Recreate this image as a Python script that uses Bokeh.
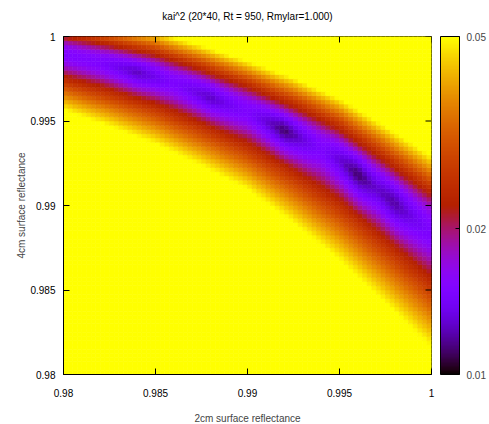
import numpy as np
from bokeh.plotting import figure
from bokeh.models import (LogColorMapper, ColorBar, FixedTicker, Range1d,
                          PrintfTickFormatter, ColumnDataSource, LinearAxis)
from bokeh.embed import file_html
from bokeh.resources import INLINE

# ---- data ----
title_text = "kai^2 (20*40, Rt = 950, Rmylar=1.000)"
x_label = "2cm surface reflectance"
y_label = "4cm surface reflectance"
x_ticks = [0.98, 0.985, 0.99, 0.995, 1.0]
x_tick_labels = ["0.98", "0.985", "0.99", "0.995", "1"]
y_ticks = [0.98, 0.985, 0.99, 0.995, 1.0]
y_tick_labels = ["0.98", "0.985", "0.99", "0.995", "1"]
cb_ticks = [0.01, 0.02, 0.05]
grid_step = 0.00025
x_range_vals = [0.98, 1.0]
y_range_vals = [0.98, 1.0]

# valley (minimum) of kai^2: 4cm reflectance at the bottom of the valley
valley_x = [0.9800, 0.9825, 0.9850, 0.9875, 0.9900, 0.9925, 0.9950, 0.9975, 1.0000]
valley_y = [0.9989, 0.9983, 0.9976, 0.9966, 0.9955, 0.9942, 0.9927, 0.9906, 0.9884]
# vertical distance from the valley to where kai^2 reaches 0.05
width_x = [0.980, 0.985, 0.990, 0.995, 1.000]
width_up = [0.0022, 0.0027, 0.0031, 0.0037, 0.0046]
width_down = [0.0033, 0.0040, 0.0046, 0.0060, 0.0069]
# kai^2 at the valley floor
floor_x = [0.980, 0.981, 0.982, 0.983, 0.984, 0.985, 0.986, 0.987, 0.988, 0.989, 0.990,
           0.991, 0.992, 0.993, 0.994, 0.995, 0.996, 0.997, 0.998, 0.999, 1.000]
floor_val = [0.0150, 0.0150, 0.0148, 0.0136, 0.0124, 0.0136, 0.0148, 0.0136, 0.0125, 0.0138, 0.0148,
             0.0130, 0.0110, 0.0130, 0.0148, 0.0130, 0.0110, 0.0128, 0.0118, 0.0135, 0.0148]
floor_base = 0.0150
rise_to_edge = 0.036
exp_up = 2.2
exp_down = 1.6

# ---- build the grid ----
n = int(round((x_range_vals[1] - x_range_vals[0]) / grid_step))
xe = np.linspace(x_range_vals[0], x_range_vals[1], n + 1)
ye = np.linspace(y_range_vals[0], y_range_vals[1], n + 1)
xc = 0.5 * (xe[:-1] + xe[1:])
yc_ = 0.5 * (ye[:-1] + ye[1:])
X, Y = np.meshgrid(xc, yc_)
L, _ = np.meshgrid(xe[:-1], yc_)
R, _ = np.meshgrid(xe[1:], yc_)
_, B = np.meshgrid(xc, ye[:-1])
_, T = np.meshgrid(xc, ye[1:])

vy = np.interp(X, valley_x, valley_y)
hu = np.interp(X, width_x, width_up)
hd = np.interp(X, width_x, width_down)
fl = np.interp(X, floor_x, floor_val)
d = Y - vy
u = np.where(d > 0, d / hu, -d / hd)
pw = np.where(d > 0, exp_up, exp_down)
core = np.clip(1 - u / 0.45, 0, 1)
kai = floor_base + (fl - floor_base) * core + rise_to_edge * u ** pw

src = ColumnDataSource(dict(left=L.ravel(), right=R.ravel(), bottom=B.ravel(),
                            top=T.ravel(), v=kai.ravel()))

# gnuplot default palette (rgbformulae 7,5,15)
def gp_palette(nc=256):
    out = []
    for t in np.linspace(0, 1, nc):
        r = np.sqrt(t)
        g = t ** 3
        b = np.clip(np.sin(2 * np.pi * t), 0, 1)
        out.append("#%02x%02x%02x" % (int(round(r * 255)), int(round(g * 255)), int(round(b * 255))))
    return out

pal = gp_palette()
mapper = LogColorMapper(palette=pal, low=cb_ticks[0], high=cb_ticks[-1],
                        low_color=pal[0], high_color=pal[-1])

FONT = "Liberation Sans"
FS = "10px"

p = figure(frame_width=368, frame_height=338, output_backend="svg", toolbar_location=None,
           x_range=Range1d(*x_range_vals), y_range=Range1d(*y_range_vals),
           min_border_left=63, min_border_right=58, min_border_top=36, min_border_bottom=50,
           background_fill_color="white", border_fill_color="white")
p.grid.visible = False
p.outline_line_color = "black"
p.outline_line_width = 1

p.quad(left="left", right="right", bottom="bottom", top="top", source=src,
       fill_color={"field": "v", "transform": mapper},
       line_color={"field": "v", "transform": mapper}, line_width=0.6)

# mirrored (top / right) inward ticks, as gnuplot draws them
p.ray(x=x_ticks, y=[y_range_vals[1]] * len(x_ticks), length=6, length_units="screen",
      angle=-np.pi / 2, line_color="black", line_width=1)
p.ray(x=[x_range_vals[1]] * len(y_ticks), y=y_ticks, length=6, length_units="screen",
      angle=np.pi, line_color="black", line_width=1)

def style_axis(ax, ticks, labels):
    ax.ticker = FixedTicker(ticks=ticks)
    ax.major_label_overrides = {t: l for t, l in zip(ticks, labels)}
    ax.major_tick_in = 6
    ax.major_tick_out = 0
    ax.minor_tick_line_color = None
    ax.axis_line_color = "black"
    ax.major_tick_line_color = "black"
    ax.major_label_text_font = FONT
    ax.major_label_text_font_size = FS
    ax.major_label_text_color = "black"
    ax.axis_label_text_font = FONT
    ax.axis_label_text_font_size = FS
    ax.axis_label_text_font_style = "normal"

x_axis = p.below[0]
y_axis = p.left[0]
style_axis(x_axis, x_ticks, x_tick_labels)
style_axis(y_axis, y_ticks, y_tick_labels)
x_axis.axis_label = x_label
y_axis.axis_label = y_label
x_axis.major_label_standoff = 14
y_axis.major_label_standoff = 8
x_axis.axis_label_standoff = 13
y_axis.axis_label_standoff = 0

# title: label of a tick-less axis above the frame
title_ax = LinearAxis(ticker=FixedTicker(ticks=[]), axis_label=title_text,
                      axis_line_color=None, major_tick_line_color=None,
                      minor_tick_line_color=None, major_label_standoff=0,
                      axis_label_standoff=15, axis_label_text_font=FONT,
                      axis_label_text_font_size=FS, axis_label_text_font_style="normal",
                      axis_label_text_color="black")
p.add_layout(title_ax, "above")

cb = ColorBar(color_mapper=mapper, ticker=FixedTicker(ticks=cb_ticks),
              formatter=PrintfTickFormatter(format="%.2f"),
              width=19, height=338, padding=0, margin=0, location=(377, 0),
              major_tick_in=4, major_tick_out=0, major_tick_line_color="black",
              minor_tick_line_color=None, bar_line_color="black",
              label_standoff=7, major_label_text_font=FONT,
              major_label_text_font_size=FS, border_line_color=None,
              background_fill_color=None)
p.add_layout(cb, "center")

open("out.html", "w").write(file_html(p, INLINE))
